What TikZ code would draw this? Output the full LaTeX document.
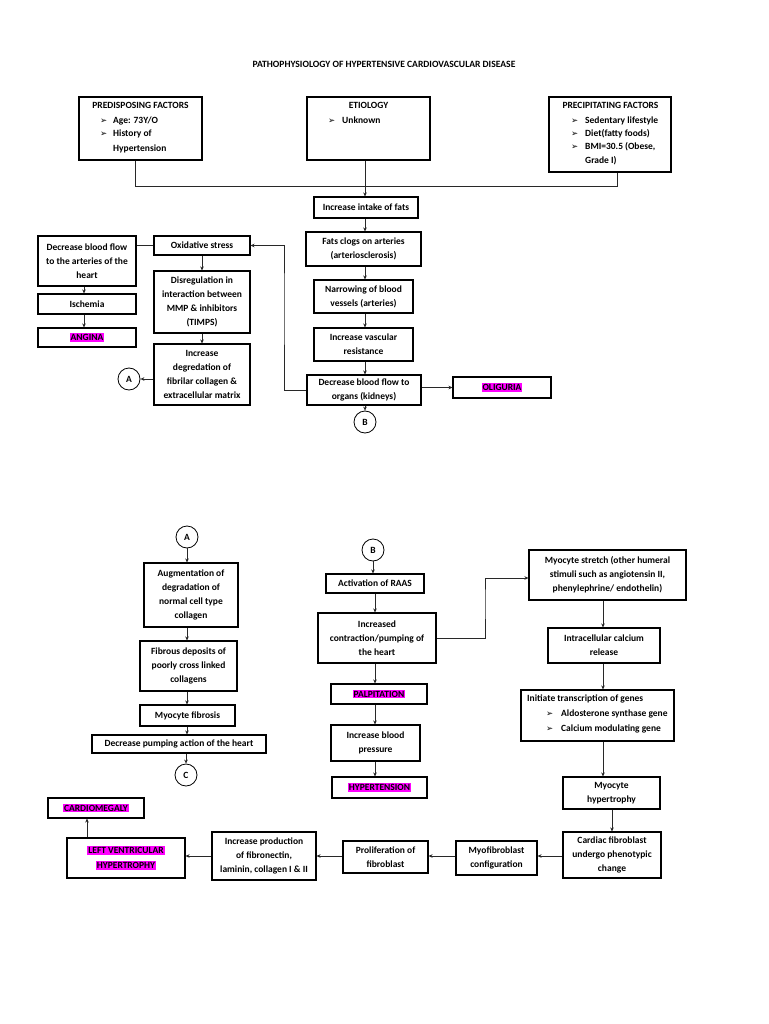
\documentclass[tikz,border=0pt]{standalone}
\usepackage{fontspec}
\setmainfont{Carlito}
\newfontfamily\djv{DejaVu Sans}
\usetikzlibrary{arrows.meta}
\definecolor{hlmag}{RGB}{255,0,255}
\definecolor{lncol}{RGB}{40,40,40}
\newcommand{\hilite}[1]{{\setlength{\fboxsep}{1pt}\colorbox{hlmag}{\bfseries #1}}}
\newcommand{\mybul}{{\djv\fontsize{8.5}{8.5}\selectfont ➢}}
\begin{document}
\begin{tikzpicture}[x=1pt,y=-1pt,
  font=\fontsize{9.5}{14.2}\selectfont\bfseries,
  box/.style={draw, line width=1.1pt, inner sep=0.5pt, align=center},
  circ/.style={draw, circle, line width=0.8pt, minimum size=22pt, inner sep=0pt},
  arr/.style={-{Stealth[length=4pt,width=3.6pt]}, line width=0.7pt, lncol},
  ln/.style={line width=0.7pt, lncol},
  txt/.style={inner sep=0pt, anchor=base west}]
\useasboundingbox (0,0) rectangle (768,1024);
\fill[white] (0,0) rectangle (768,1024);

% title
\node[font=\fontsize{9.6}{11}\selectfont\bfseries] (title) at (384,64) {PATHOPHYSIOLOGY OF HYPERTENSIVE CARDIOVASCULAR DISEASE};

% top boxes
\node[box, minimum width=123pt, minimum height=63pt] (pred) at (140.5,128.5) {};
\node[txt, anchor=base] (predh) at (140.5,109) {PREDISPOSING FACTORS};
\node[txt] (predb1) at (100,124) {\mybul};
\node[txt] (predb2) at (100,137) {\mybul};
\node[txt] (predt1) at (113,124) {Age: 73Y/O};
\node[txt] (predt2) at (113,137) {History of};
\node[txt] (predt3) at (113,152) {Hypertension};

\node[box, minimum width=123pt, minimum height=63pt] (etio) at (368.5,128.5) {};
\node[txt, anchor=base] (etioh) at (368.5,109) {ETIOLOGY};
\node[txt] (etiob1) at (328,124) {\mybul};
\node[txt] (etiot1) at (342,124) {Unknown};

\node[box, minimum width=122pt, minimum height=75pt] (prec) at (610,134.5) {};
\node[txt, anchor=base] (prech) at (610.5,109) {PRECIPITATING FACTORS};
\node[txt] (precb1) at (571,124) {\mybul};
\node[txt] (precb2) at (571,137) {\mybul};
\node[txt] (precb3) at (571,150) {\mybul};
\node[txt] (prect1) at (585,124) {Sedentary lifestyle};
\node[txt] (prect2) at (585,137) {Diet(fatty foods)};
\node[txt] (prect3) at (585,150) {BMI=30.5 (Obese,};
\node[txt] (prect4) at (585,164) {Grade I)};

% central column
\node[box, minimum width=104pt, minimum height=21pt] (intake) at (366,207.5) {Increase intake of fats};
\node[box, minimum width=115pt, minimum height=34pt] (fats) at (363.5,249) {Fats clogs on arteries\\(arteriosclerosis)};
\node[box, minimum width=99pt, minimum height=33pt] (narrow) at (363.5,296.5) {Narrowing of blood\\vessels (arteries)};
\node[box, minimum width=99pt, minimum height=33pt] (resist) at (363.5,344.5) {Increase vascular\\resistance};
\node[box, minimum width=114pt, minimum height=30pt] (organs) at (364,390) {Decrease blood flow to\\organs (kidneys)};
\node[circ] (B1) at (365,422) {B};
\node[box, minimum width=98pt, minimum height=21pt] (olig) at (502,387.5) {\hilite{OLIGURIA}};

% left cluster
\node[box, minimum width=96pt, minimum height=19pt] (oxid) at (202,245.5) {Oxidative stress};
\node[box, minimum width=98pt, minimum height=50pt] (arter) at (87,261) {Decrease blood flow\\to the arteries of the\\heart};
\node[box, minimum width=98pt, minimum height=20pt] (isch) at (87,304) {Ischemia};
\node[box, minimum width=98pt, minimum height=19pt] (angina) at (87,337.5) {\hilite{ANGINA}};
\node[box, minimum width=96pt, minimum height=62pt] (disreg) at (202,302) {Disregulation in\\interaction between\\MMP \& inhibitors\\(TIMPS)};
\node[box, minimum width=96pt, minimum height=61pt] (degr) at (202,374.5) {Increase\\degredation of\\fibrilar collagen \&\\extracellular matrix};
\node[circ] (A1) at (129,379) {A};

% bottom left chain
\node[circ] (A2) at (187,537) {A};
\node[box, minimum width=94pt, minimum height=64pt] (aug) at (191,595) {Augmentation of\\degradation of\\normal cell type\\collagen};
\node[box, minimum width=97pt, minimum height=50pt] (fib) at (188.5,666) {Fibrous deposits of\\poorly cross linked\\collagens};
\node[box, minimum width=95pt, minimum height=21pt] (myofib) at (187.5,715.5) {Myocyte fibrosis};
\node[box, minimum width=174pt, minimum height=18pt] (pump) at (179,744) {Decrease pumping action of the heart};
\node[circ] (C) at (186,775) {C};

% middle chain
\node[circ] (B2) at (373,550) {B};
\node[box, minimum width=98pt, minimum height=19pt] (raas) at (375,583.5) {Activation of RAAS};
\node[box, minimum width=118pt, minimum height=50pt] (contr) at (377,638) {Increased\\contraction/pumping of\\the heart};
\node[box, minimum width=96pt, minimum height=20pt] (palp) at (379,694) {\hilite{PALPITATION}};
\node[box, minimum width=89pt, minimum height=36pt] (bp) at (375.5,743) {Increase blood\\pressure};
\node[box, minimum width=95pt, minimum height=21pt] (htn) at (379.5,787.5) {\hilite{HYPERTENSION}};

% right chain
\node[box, minimum width=157pt, minimum height=50pt] (stretch) at (607.5,575) {Myocyte stretch (other humeral\\stimuli such as angiotensin II,\\phenylephrine/ endothelin)};
\node[box, minimum width=112pt, minimum height=35pt] (calc) at (604,645.5) {Intracellular calcium\\release};
\node[box, minimum width=153pt, minimum height=51pt] (genes) at (597.5,715.5) {};
\node[txt] (genesh) at (527,701) {Initiate transcription of genes};
\node[txt] (genesb1) at (546,716) {\mybul};
\node[txt] (genesb2) at (546,731) {\mybul};
\node[txt] (genest1) at (561,716) {Aldosterone synthase gene};
\node[txt] (genest2) at (561,731) {Calcium modulating gene};
\node[box, minimum width=97pt, minimum height=32pt] (hyper) at (611.5,793) {Myocyte\\hypertrophy};
\node[box, minimum width=98pt, minimum height=46pt] (cfib) at (612,855) {Cardiac fibroblast\\undergo phenotypic\\change};
\node[box, minimum width=81pt, minimum height=34pt] (myofbl) at (496.5,858) {Myofibroblast\\configuration};
\node[box, minimum width=85pt, minimum height=32pt] (prolif) at (385.5,857) {Proliferation of\\fibroblast};
\node[box, minimum width=104pt, minimum height=48pt] (prod) at (264,856) {Increase production\\of fibronectin,\\laminin, collagen I \& II};
\node[box, minimum width=118pt, minimum height=40pt] (lvh) at (126,858) {\hilite{LEFT VENTRICULAR}\\[1pt]\hilite{HYPERTROPHY}};
\node[box, minimum width=96pt, minimum height=20pt] (cardio) at (96,808) {\hilite{CARDIOMEGALY}};

% helper coordinates
\coordinate (j1) at (135,186);
\coordinate (j2) at (617,186);
\coordinate (lp) at (284,300);
\coordinate (cs) at (485,600);
\coordinate (lc) at (87,828);

% connectors top
\draw[ln] (pred.south -| j1) -- (j1) -- (j2) -- (prec.south -| j2);
\draw[arr] (etio.south -| 365,0) -- (intake.north -| 365,0);
\draw[arr] (intake.south -| 365,0) -- (fats.north -| 365,0);
\draw[arr] (fats.south -| 365,0) -- (narrow.north -| 365,0);
\draw[arr] (narrow.south -| 365,0) -- (resist.north -| 365,0);
\draw[arr] (resist.south -| 365,0) -- (organs.north -| 365,0);
\draw[arr] (organs.south -| B1) -- (B1.north);
\draw[arr] (organs.east |- olig.west) -- (olig.west);
\draw[arr] (organs.west) -| (lp) |- (oxid.east);
\draw[ln] (oxid.west) -- (arter.east |- oxid.west);
\draw[arr] (oxid.south) -- (disreg.north);
\draw[arr] (disreg.south) -- (degr.north);
\draw[arr] (degr.west |- A1) -- (A1.east);
\draw[arr] (arter.south -| 84,0) -- (isch.north -| 84,0);
\draw[arr] (isch.south -| 84,0) -- (angina.north -| 84,0);

% bottom left
\draw[arr] (A2.south) -- (aug.north -| A2);
\draw[arr] (aug.south -| A2) -- (fib.north -| A2);
\draw[arr] (fib.south -| A2) -- (myofib.north -| A2);
\draw[arr] (myofib.south -| A2) -- (pump.north -| A2);
\draw[arr] (pump.south -| C) -- (C.north);

% middle
\draw[arr] (B2.south) -- (raas.north -| B2);
\draw[arr] (raas.south) -- (contr.north -| raas);
\draw[arr] (contr.south -| raas) -- (palp.north -| raas);
\draw[arr] (palp.south -| raas) -- (bp.north -| raas);
\draw[arr] (bp.south -| raas) -- (htn.north -| raas);
\draw[arr] (contr.east) -| (cs) |- (stretch.west |- 0,578);

% right
\draw[arr] (stretch.south -| 603,0) -- (calc.north -| 603,0);
\draw[arr] (calc.south -| 603,0) -- (genes.north -| 603,0);
\draw[arr] (genes.south -| 603,0) -- (hyper.north -| 603,0);
\draw[arr] (hyper.south -| 612,0) -- (cfib.north -| 612,0);
\draw[arr] (cfib.west |- 0,856) -- (myofbl.east |- 0,856);
\draw[arr] (myofbl.west |- 0,856) -- (prolif.east |- 0,856);
\draw[arr] (prolif.west |- 0,856) -- (prod.east |- 0,856);
\draw[arr] (prod.west |- 0,856) -- (lvh.east |- 0,856);
\draw[arr] (lvh.north -| lc) -- (cardio.south -| lc);
\end{tikzpicture}
\end{document}
